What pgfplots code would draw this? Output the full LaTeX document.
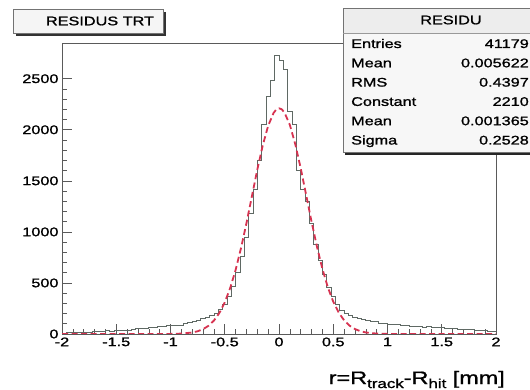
\documentclass[border=0pt]{standalone}
\usepackage{fontspec}
\setmainfont{Liberation Sans}[FakeStretch=1.3, FakeBold=1.2]
\usepackage{pgfplots}
\pgfplotsset{compat=1.18}
\definecolor{histc}{RGB}{95,105,100}
\definecolor{fitc}{RGB}{215,50,80}
\definecolor{framec}{RGB}{90,90,90}
\begin{document}
\begin{tikzpicture}
\useasboundingbox (0,0) rectangle (530bp,390bp);
\fill[white] (0,0) rectangle (530bp,390bp);
\begin{axis}[
  at={(62bp,56bp)}, anchor=south west,
  scale only axis, width=434bp, height=291bp,
  xmin=-2, xmax=2, ymin=0, ymax=2850,
  xtick={-2,-1.5,-1,-0.5,0,0.5,1,1.5,2},
  ytick={0,500,1000,1500,2000,2500},
  minor x tick num=4, minor y tick num=4,
  xtick pos=bottom, ytick pos=left,
  tick align=inside,
  major tick length=10bp, minor tick length=5bp,
  axis line style={framec, line width=0.8bp},
  every tick/.style={framec, line width=0.6bp},
  tick label style={font=\fontsize{12.5bp}{13bp}\selectfont, black},
  /pgf/number format/.cd, 1000 sep={}, assume math mode=true,
  /pgfplots/.cd,
  xlabel={r=R\raisebox{-4bp}{\fontsize{13bp}{13bp}\selectfont track}-R\raisebox{-4bp}{\fontsize{13bp}{13bp}\selectfont hit} [mm]},
  xlabel style={at={(rel axis cs:1,0)}, anchor=base east, inner sep=0pt, xshift=9bp, yshift=-50bp, font=\fontsize{18bp}{18bp}\selectfont},
]
\addplot[const plot, histc, line width=0.8bp] coordinates {
(-2.00,10) (-1.96,14) (-1.92,12) (-1.88,16) (-1.84,15) (-1.80,20) (-1.76,18) (-1.72,24)
(-1.68,30) (-1.64,28) (-1.60,32) (-1.56,30) (-1.52,35) (-1.48,34) (-1.44,38) (-1.40,36)
(-1.36,45) (-1.32,52) (-1.28,55) (-1.24,56) (-1.20,60) (-1.16,62) (-1.12,75) (-1.08,78)
(-1.04,80) (-1.00,82) (-0.96,85) (-0.92,88) (-0.88,100) (-0.84,112) (-0.80,120) (-0.76,130)
(-0.72,150) (-0.68,165) (-0.64,185) (-0.60,205) (-0.56,240) (-0.52,290) (-0.48,370) (-0.44,470)
(-0.40,600) (-0.36,760) (-0.32,950) (-0.28,1180) (-0.24,1420) (-0.20,1700) (-0.16,2050) (-0.12,2330)
(-0.08,2485) (-0.04,2725) (0.00,2680) (0.04,2590) (0.08,2180) (0.12,2050) (0.16,1600) (0.20,1420)
(0.24,1300) (0.28,1080) (0.32,880) (0.36,720) (0.40,580) (0.44,460) (0.48,370) (0.52,290)
(0.56,230) (0.60,200) (0.64,185) (0.68,165) (0.72,148) (0.76,140) (0.80,135) (0.84,128)
(0.88,120) (0.92,108) (0.96,102) (1.00,98) (1.04,95) (1.08,90) (1.12,86) (1.16,80)
(1.20,76) (1.24,72) (1.28,70) (1.32,68) (1.36,70) (1.40,65) (1.44,64) (1.48,60)
(1.52,58) (1.56,56) (1.60,52) (1.64,48) (1.68,46) (1.72,44) (1.76,42) (1.80,40)
(1.84,36) (1.88,34) (1.92,30) (1.96,26) (2.00,26)
};
\addplot[fitc, line width=1.8bp, dash pattern=on 6bp off 3.5bp] coordinates {
(-2,0) (-1.2,0.03) (-1.0,0.9) (-0.9,4) (-0.8,14.5) (-0.75,26.7) (-0.7,47) (-0.65,80)
(-0.6,131) (-0.55,205) (-0.5,309) (-0.45,450) (-0.4,627) (-0.35,842) (-0.3,1085)
(-0.25,1348) (-0.2,1610) (-0.15,1846) (-0.1,2039) (-0.05,2165) (-0.025,2199) (0,2210) (0.025,2201)
(0.05,2170) (0.1,2048) (0.15,1859) (0.2,1624) (0.25,1363) (0.3,1100) (0.35,855)
(0.4,638) (0.45,458) (0.5,316) (0.55,210) (0.6,134) (0.65,82) (0.7,48.6) (0.75,27.6)
(0.8,15.1) (0.9,4) (1.0,0.9) (1.2,0.03) (2,0)
};
\end{axis}
% title box
\fill[black!80] (16bp,354bp) rectangle (166bp,378bp);
\fill[white!96!black] (13bp,357bp) rectangle (163bp,381bp);
\draw[black!55, line width=0.6bp] (13bp,357bp) rectangle (163bp,381bp);
\node[font=\fontsize{12.5bp}{13bp}\selectfont] at (100bp,369bp) {RESIDUS TRT};
% stat box
\fill[black!85] (345bp,235bp) rectangle (545bp,238bp);
\fill[white!97!black] (343bp,238bp) rectangle (545bp,382bp);
\fill[white!93!black] (343bp,357bp) rectangle (545bp,382bp);
\draw[black!55, line width=0.6bp] (343bp,238bp) rectangle (545bp,382bp);
\draw[black!40, line width=0.5bp] (343bp,357bp) -- (545bp,357bp);
\begin{scope}[every node/.style={inner sep=0pt, font=\fontsize{12.5bp}{13bp}\selectfont}]
\node at (451bp,370bp) {RESIDU};
\node[anchor=base west] at (351bp,342bp) {Entries};
\node[anchor=base east] at (529bp,342bp) {41179};
\node[anchor=base west] at (351bp,322.7bp) {Mean};
\node[anchor=base east] at (529bp,322.7bp) {0.005622};
\node[anchor=base west] at (351bp,303.4bp) {RMS};
\node[anchor=base east] at (529bp,303.4bp) {0.4397};
\node[anchor=base west] at (351bp,284.1bp) {Constant};
\node[anchor=base east] at (529bp,284.1bp) {2210};
\node[anchor=base west] at (351bp,264.8bp) {Mean};
\node[anchor=base east] at (529bp,264.8bp) {0.001365};
\node[anchor=base west] at (351bp,245.5bp) {Sigma};
\node[anchor=base east] at (529bp,245.5bp) {0.2528};
\end{scope}
\end{tikzpicture}
\end{document}
